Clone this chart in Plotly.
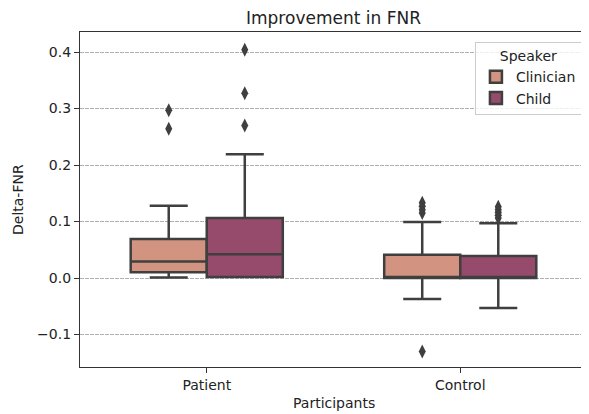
import plotly.graph_objects as go

categories = ["Patient", "Control"]
hues = ["Clinician", "Child"]

# box statistics per hue, per category [Patient, Control]
clin_q1 = [0.010, 0.000]
clin_med = [0.029, 0.000]
clin_q3 = [0.069, 0.041]
clin_lo = [0.001, -0.037]
clin_hi = [0.128, 0.099]

child_q1 = [0.002, 0.000]
child_med = [0.042, 0.000]
child_q3 = [0.106, 0.039]
child_lo = [0.002, -0.053]
child_hi = [0.219, 0.097]

# outliers
clin_out_patient = [0.297, 0.264]
clin_out_control = [0.115, 0.121, 0.127, 0.133, -0.130]
child_out_patient = [0.404, 0.327, 0.270]
child_out_control = [0.106, 0.111, 0.116, 0.121, 0.126]

colors = {"Clinician": "#d29480", "Child": "#964b6c"}
edge = "#3f3f3f"
BOX_W = 0.3

fig = go.Figure()
stats = {
    "Clinician": (clin_q1, clin_med, clin_q3, clin_lo, clin_hi),
    "Child": (child_q1, child_med, child_q3, child_lo, child_hi),
}
outs = {
    "Clinician": [clin_out_patient, clin_out_control],
    "Child": [child_out_patient, child_out_control],
}
for h_i, h in enumerate(hues):
    q1, med, q3, lo, hi = stats[h]
    offset = (h_i - 0.5) * BOX_W
    fig.add_trace(go.Box(
        name=h,
        x=[i + offset for i in range(len(categories))],
        q1=q1, median=med, q3=q3, lowerfence=lo, upperfence=hi,
        width=BOX_W,
        fillcolor=colors[h],
        line=dict(color=edge, width=2.5),
        whiskerwidth=0.5,
        boxpoints=False,
        showlegend=True,
    ))
for h_i, h in enumerate(hues):
    offset = (h_i - 0.5) * BOX_W
    xs, ys = [], []
    for c_i, vals in enumerate(outs[h]):
        for v in vals:
            xs.append(c_i + offset)
            ys.append(v)
    fig.add_trace(go.Scatter(
        x=xs, y=ys, mode="markers",
        marker=dict(symbol="diamond-tall", size=10, color=edge),
        showlegend=False, hoverinfo="y",
    ))

font = "DejaVu Sans, Arial, sans-serif"
# page has an 8px body margin, so the figure is 8px smaller than the window
W, H = 581, 406
ML, MR, MT, MB = 72, 2, 24, 47
PW, PH = W - ML - MR, H - MT - MB
fig.update_layout(
    width=W, height=H,
    margin=dict(l=ML, r=MR, t=MT, b=MB),
    paper_bgcolor="white", plot_bgcolor="white",
    font=dict(family=font, size=14, color="#222222"),
    title=dict(text="Improvement in FNR", x=0.5, xref="paper",
               y=1 - 10 / H, yref="container", yanchor="middle",
               xanchor="center", font=dict(size=17, color="#222222")),
    legend=dict(
        title=dict(text="Speaker", side="top center", font=dict(size=14)),
        x=0.99, xanchor="right", y=0.97, yanchor="top",
        bgcolor="rgba(255,255,255,0.8)", bordercolor="#cccccc", borderwidth=1,
        font=dict(size=14), itemwidth=30, tracegroupgap=0,
    ),
    showlegend=True,
    annotations=[
        dict(text="Participants", xref="paper", yref="paper",
             x=0.5, y=-(395 - (H - MB)) / PH, xanchor="center", yanchor="middle",
             showarrow=False, font=dict(size=14)),
        dict(text="Delta-FNR", xref="paper", yref="paper",
             x=-(ML - 9.5) / PW, y=0.5, xanchor="center", yanchor="middle",
             textangle=-90, showarrow=False, font=dict(size=14)),
    ],
)
fig.update_xaxes(
    range=[-0.5, 1.5], tickvals=[0, 1], ticktext=categories,
    showgrid=False, zeroline=False, automargin=False,
    showline=True, mirror=True, linecolor="#333333", linewidth=1.2,
    ticks="outside", ticklen=5, tickcolor="#333333",
    tickfont=dict(size=14),
)
fig.update_yaxes(
    range=[-0.1575, 0.4354], dtick=0.1, tick0=0, tickformat=".1f",
    showgrid=True, gridcolor="#b0b0b0", griddash="3.5px,1.5px", gridwidth=1,
    zeroline=False, automargin=False,
    showline=True, mirror=True, linecolor="#333333", linewidth=1.2,
    ticks="outside", ticklen=5, tickcolor="#333333",
    tickfont=dict(size=14),
)
fig.write_html("out.html")
